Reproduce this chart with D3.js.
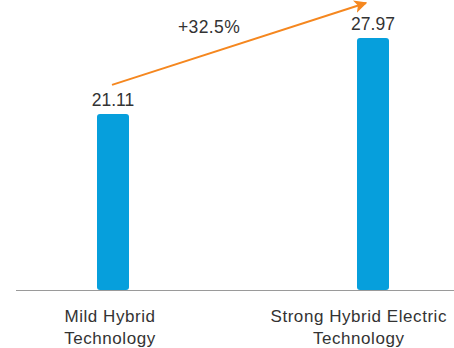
<!DOCTYPE html>
<html>
<head>
<meta charset="utf-8">
<script src="https://cdn.jsdelivr.net/npm/d3@7"></script>
<style>
  html, body { margin: 0; padding: 0; background: #fff; }
  svg { display: block; font-family: "Liberation Sans", Arial, sans-serif; }
</style>
</head>
<body>
<svg id="chart" width="454" height="348"></svg>
<script>
const categories = ['Mild Hybrid|Technology', 'Strong Hybrid Electric|Technology'];
const values = [21.11, 27.97];
const growthLabel = '+32.5%';

const width = 454,
  height = 348,
  baseY = 290,
  barColor = '#069fdc',
  arrowColor = '#f5871f';

const svg = d3.select('#chart');

const x = d3.scalePoint()
  .domain(categories)
  .range([113, 373]);

// axis baseline sits above zero, so bars start at 5.2
const y = d3.scaleLinear()
  .domain([5.2, 27.97])
  .range([baseY, 38]);

const barW = 32;

svg.append('defs').append('marker')
  .attr('id', 'head')
  .attr('viewBox', '0 0 10 10')
  .attr('refX', 9)
  .attr('refY', 5)
  .attr('markerWidth', 6.5)
  .attr('markerHeight', 6.5)
  .attr('orient', 'auto')
  .append('path')
  .attr('d', 'M0,0 L10,5 L0,10 L2.5,5 Z')
  .attr('fill', arrowColor);

// bars
svg.selectAll('rect.bar')
  .data(values)
  .join('rect')
  .attr('class', 'bar')
  .attr('x', (d, i) => x(categories[i]) - barW / 2)
  .attr('y', d => y(d))
  .attr('width', barW)
  .attr('height', d => baseY - y(d))
  .attr('rx', 3)
  .attr('fill', barColor);

// baseline
svg.append('line')
  .attr('x1', 16)
  .attr('x2', width)
  .attr('y1', baseY + 0.5)
  .attr('y2', baseY + 0.5)
  .attr('stroke', '#9a9a9a')
  .attr('stroke-width', 1.2);

// value labels
svg.selectAll('text.val')
  .data(values)
  .join('text')
  .attr('class', 'val')
  .attr('x', (d, i) => x(categories[i]))
  .attr('y', d => y(d) - 8)
  .attr('text-anchor', 'middle')
  .attr('font-size', 17.5)
  .attr('fill', '#333')
  .text(d => d.toFixed(2));

// category labels, kept inside the right edge
const cat = svg.selectAll('text.cat')
  .data(categories)
  .join('text')
  .attr('class', 'cat')
  .attr('text-anchor', 'middle')
  .attr('font-size', 17)
  .attr('letter-spacing', 0.55)
  .attr('fill', '#333');

cat.selectAll('tspan')
  .data(d => d.split('|'))
  .join('tspan')
  .attr('x', 0)
  .attr('dy', (d, i) => i === 0 ? 0 : 21.5)
  .text(d => d);

cat.each(function(d) {
  const w = this.getBBox().width;
  let cx = x(d) - 3;
  if (cx + w / 2 > width - 7) cx = width - 7 - w / 2;
  d3.select(this).attr('transform', `translate(${cx},${baseY + 32})`);
});

// growth arrow
const x0 = x(categories[0]) - 1,
  y0 = y(values[0]) - 29;
const x1 = x(categories[1]) - 7,
  y1 = y(values[1]) - 35;

svg.append('line')
  .attr('x1', x0)
  .attr('y1', y0)
  .attr('x2', x1)
  .attr('y2', y1)
  .attr('stroke', arrowColor)
  .attr('stroke-width', 2)
  .attr('marker-end', 'url(#head)');

svg.append('text')
  .attr('x', 209)
  .attr('y', 33)
  .attr('text-anchor', 'middle')
  .attr('font-size', 17.5)
  .attr('letter-spacing', 0.4)
  .attr('fill', '#333')
  .text(growthLabel);
</script>
</body>
</html>
